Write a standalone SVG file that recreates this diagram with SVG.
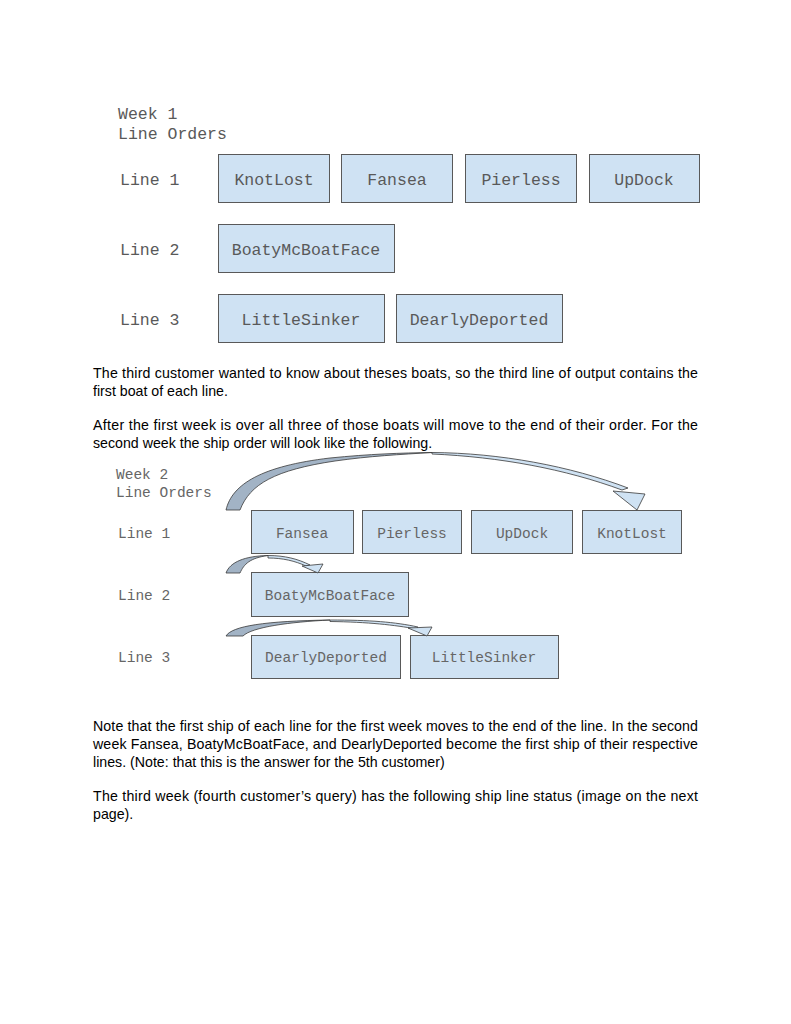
<svg xmlns="http://www.w3.org/2000/svg" width="791" height="1024" viewBox="0 0 791 1024">
<style>
.bg{fill:#ffffff}
.box{fill:#cfe2f3;stroke:#595959;stroke-width:1}
.m1{font-family:"Liberation Mono","DejaVu Sans Mono",monospace;font-size:16.5px;fill:#595959}
.m2{font-family:"Liberation Mono","DejaVu Sans Mono",monospace;font-size:14.5px;fill:#666666}
.c{text-anchor:middle}
.p{font-family:"Liberation Sans",Arial,sans-serif;font-size:14.2px;fill:#000000}
.dark{fill:#a2b3c5;stroke:#3a3a3a;stroke-width:0.8}
.light{fill:#cfe2f3;stroke:#3a3a3a;stroke-width:0.8}
</style>
<rect class="bg" x="0" y="0" width="791" height="1024"/>

<g id="week1-title">
<text class="m1" x="118" y="119">Week 1</text>
<text class="m1" x="118" y="139">Line Orders</text>
</g>
<g id="w1-labels">
<text class="m1" x="120" y="185">Line 1</text>
<text class="m1" x="120" y="255">Line 2</text>
<text class="m1" x="120" y="325">Line 3</text>
</g>
<g id="w1-knotlost"><rect class="box" x="218.5" y="154.5" width="111" height="48"/><text class="m1 c" x="274" y="185">KnotLost</text></g>
<g id="w1-fansea"><rect class="box" x="341.5" y="154.5" width="111" height="48"/><text class="m1 c" x="397" y="185">Fansea</text></g>
<g id="w1-pierless"><rect class="box" x="465.5" y="154.5" width="111" height="48"/><text class="m1 c" x="521" y="185">Pierless</text></g>
<g id="w1-updock"><rect class="box" x="589.5" y="154.5" width="110" height="48"/><text class="m1 c" x="644" y="185">UpDock</text></g>
<g id="w1-boaty"><rect class="box" x="218.5" y="224.5" width="176" height="48"/><text class="m1 c" x="306" y="255">BoatyMcBoatFace</text></g>
<g id="w1-little"><rect class="box" x="218.5" y="294.5" width="166" height="48"/><text class="m1 c" x="301" y="325">LittleSinker</text></g>
<g id="w1-dearly"><rect class="box" x="396.5" y="294.5" width="166" height="48"/><text class="m1 c" x="479" y="325">DearlyDeported</text></g>

<g id="para1">
<text class="p" x="93" y="378" textLength="605" lengthAdjust="spacing">The third customer wanted to know about theses boats, so the third line of output contains the</text>
<text class="p" x="93" y="396">first boat of each line.</text>
<text class="p" x="93" y="430" textLength="605" lengthAdjust="spacing">After the first week is over all three of those boats will move to the end of their order.  For the</text>
<text class="p" x="93" y="448">second week the ship order will look like the following.</text>
</g>

<g id="week2-title">
<text class="m2" x="116" y="479">Week 2</text>
<text class="m2" x="116" y="497">Line Orders</text>
</g>
<g id="w2-labels">
<text class="m2" x="118" y="538">Line 1</text>
<text class="m2" x="118" y="600">Line 2</text>
<text class="m2" x="118" y="662">Line 3</text>
</g>
<g id="w2-fansea"><rect class="box" x="251.5" y="510.5" width="102" height="43"/><text class="m2 c" x="302" y="538">Fansea</text></g>
<g id="w2-pierless"><rect class="box" x="362.5" y="510.5" width="99" height="43"/><text class="m2 c" x="412" y="538">Pierless</text></g>
<g id="w2-updock"><rect class="box" x="471.5" y="510.5" width="101" height="43"/><text class="m2 c" x="522" y="538">UpDock</text></g>
<g id="w2-knotlost"><rect class="box" x="582.5" y="510.5" width="99" height="43"/><text class="m2 c" x="632" y="538">KnotLost</text></g>
<g id="w2-boaty"><rect class="box" x="251.5" y="572.5" width="157" height="44"/><text class="m2 c" x="330" y="600">BoatyMcBoatFace</text></g>
<g id="w2-dearly"><rect class="box" x="251.5" y="635.5" width="149" height="43"/><text class="m2 c" x="326" y="662">DearlyDeported</text></g>
<g id="w2-little"><rect class="box" x="410.5" y="635.5" width="148" height="43"/><text class="m2 c" x="484" y="662">LittleSinker</text></g>

<g id="connectors">
<path class="dark" d="M226,510 C232,484 262,466 330,458 C370,454 400,453 432,452.5 C400,454.5 370,456 335,461 C275,470 250,484 240,510 Z"/>
<path class="light" d="M432,452.5 C500,453 570,466 628,488 L622,490 C565,469 500,457 432,454 Z"/>
<path class="light" d="M613,491 L645,494 L637,510 Z"/>
<path class="dark" d="M226,573 C230,562 245,556 268,555.5 C250,558 244,564 240,573 Z"/>
<path class="light" d="M268,555.5 C285,555.5 298,559 310,565 L306,566 C295,561 283,558 268,558 Z"/>
<path class="light" d="M302,566 L323,564 L318,573 Z"/>
<path class="dark" d="M226,636 C232,626 265,621 330,620 C290,622 252,627 243,636 Z"/>
<path class="light" d="M330,620 C370,620 395,622 418,627 L416,629 C395,625 368,622 330,621.5 Z"/>
<path class="light" d="M408,628 L432,627 L427,636 Z"/>
</g>

<g id="para2">
<text class="p" x="93" y="731" textLength="605" lengthAdjust="spacing">Note that the first ship of each line for the first week moves to the end of the line.  In the second</text>
<text class="p" x="93" y="749" textLength="605" lengthAdjust="spacing">week Fansea, BoatyMcBoatFace, and DearlyDeported become the first ship of their respective</text>
<text class="p" x="93" y="767">lines. (Note: that this is the answer for the 5th customer)</text>
<text class="p" x="93" y="801" textLength="605" lengthAdjust="spacing">The third week (fourth customer’s query) has the following ship line status (image on the next</text>
<text class="p" x="93" y="819">page).</text>
</g>
</svg>
